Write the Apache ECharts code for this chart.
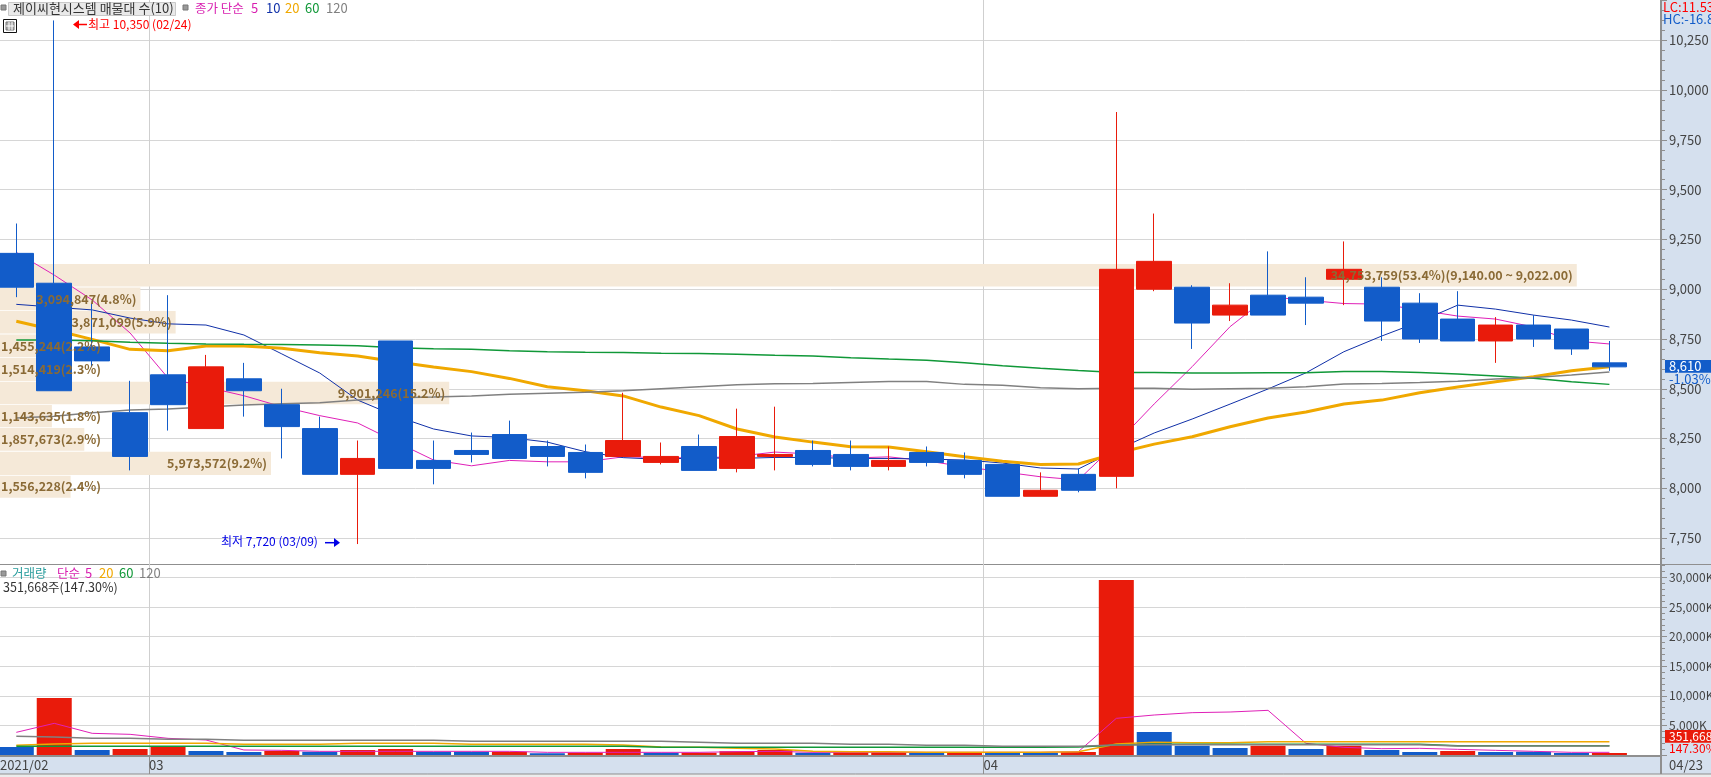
<!DOCTYPE html>
<html><head><meta charset="utf-8">
<style>html,body{margin:0;padding:0;background:#fff;overflow:hidden}#c{width:1711px;height:777px}</style>
<script src="https://cdn.jsdelivr.net/npm/echarts@6/dist/echarts.min.js"></script>
</head><body><div id="c"></div>
<script>
const dates=['02/23','02/24','02/25','02/26','03/02','03/03','03/04','03/05','03/08','03/09','03/10','03/11','03/12','03/15','03/16','03/17','03/18','03/19','03/22','03/23','03/24','03/25','03/26','03/29','03/30','03/31','04/01','04/02','04/05','04/06','04/07','04/08','04/09','04/12','04/13','04/14','04/15','04/16','04/19','04/20','04/21','04/22','04/23'];
const openP =[9180,9030,8710,8380,8570,8300,8550,8420,8300,8070,8740,8140,8190,8270,8210,8180,8160,8130,8210,8100,8160,8190,8170,8110,8180,8140,8120,7960,8070,8060,9000,9010,8870,8970,8960,9050,9010,8930,8850,8740,8820,8800,8630];
const closeP=[9010,8490,8640,8160,8420,8610,8490,8310,8070,8150,8100,8100,8170,8150,8160,8080,8240,8160,8090,8260,8170,8120,8110,8140,8130,8070,7960,7990,7990,9100,9140,8830,8920,8870,8930,9100,8840,8750,8740,8820,8750,8700,8610];
const lowP  =[8960,8490,8610,8090,8290,8300,8360,8150,8070,7720,8100,8020,8130,8150,8110,8050,8160,8120,8090,8080,8090,8110,8090,8090,8110,8050,7960,7960,7980,8000,8990,8700,8840,8870,8820,8920,8740,8730,8740,8630,8710,8670,8590];
const highP =[9330,10350,8930,8540,8970,8670,8630,8500,8360,8240,8740,8240,8280,8340,8240,8220,8480,8230,8270,8400,8410,8240,8240,8210,8210,8180,8120,8080,8100,9890,9380,9020,9030,9190,9060,9240,9060,8980,8990,8860,8870,8800,8740];
const ma5 =[9185,9071,8946,8780,8554,8509,8465,8410,8365,8328,8234,8142,8113,8140,8133,8133,8158,8155,8152,8160,8182,8172,8152,8158,8138,8108,8083,8058,8042,8225,8424,8611,8812,8962,8945,8928,8925,8895,8865,8850,8810,8741,8725];
const ma10=[8924,8910,8896,8855,8826,8820,8770,8675,8579,8443,8363,8298,8263,8255,8232,8184,8154,8145,8154,8150,8155,8155,8150,8150,8147,8142,8127,8102,8097,8192,8278,8348,8423,8499,8580,8686,8765,8837,8920,8900,8870,8845,8810];
const ma20=[8839,8795,8748,8698,8691,8715,8715,8703,8681,8664,8636,8609,8586,8552,8510,8490,8464,8408,8365,8298,8258,8232,8209,8207,8184,8159,8136,8120,8122,8176,8222,8259,8309,8353,8383,8423,8443,8480,8509,8535,8560,8590,8611];
const ma60=[8745,8745,8741,8733,8728,8725,8723,8722,8720,8716,8706,8701,8698,8691,8686,8683,8682,8678,8677,8673,8668,8664,8656,8649,8643,8631,8616,8603,8592,8582,8582,8579,8579,8580,8580,8587,8587,8582,8574,8564,8553,8535,8522];
const ma120=[8353,8362,8380,8393,8398,8408,8418,8425,8430,8443,8455,8458,8464,8472,8477,8482,8490,8500,8510,8520,8525,8527,8532,8537,8537,8522,8517,8505,8500,8502,8502,8497,8500,8502,8510,8524,8527,8532,8538,8549,8557,8569,8584];
const volume=[1351,9630,845,1013,1408,676,507,676,563,845,1013,563,563,563,280,394,1013,394,394,620,845,394,450,450,394,394,394,394,507,29560,3885,1576,1182,1576,1013,1576,845,507,676,507,563,338,352];
const volUp =[0,1,0,1,1,0,0,1,0,1,1,0,0,1,0,1,1,0,1,1,1,0,1,1,0,1,0,0,1,1,0,0,0,1,0,1,0,0,1,0,0,0,1];
const vma5 =[3828,5349,3660,3490,2815,2534,845,788,619,619,619,619,619,619,450,450,450,450,450,563,619,450,450,450,450,450,450,450,563,6193,6756,7150,7263,7544,1970,1295,1070,1126,957,788,619,450,450];
const vma20=[1633,1858,1970,1970,1970,1970,1800,1800,1800,1970,1970,1970,1800,1800,1800,1800,1700,1350,1295,1126,1013,619,563,563,450,450,450,450,563,1858,2139,2082,2082,2252,2252,2252,2252,2252,2252,2252,2252,2252,2252];
const vma60=[1464,1464,1464,1464,1464,1464,1464,1464,1464,1464,1464,1464,1464,1464,1464,1464,1464,1295,1295,1295,1295,1295,1295,1295,1295,1295,1295,1295,1350,1689,1800,1800,1800,1800,1800,1800,1800,1800,1576,1576,1576,1576,1576];
const vma120=[3153,3040,2815,2815,2646,2646,2477,2477,2477,2477,2477,2477,2308,2308,2308,2308,2308,2308,2139,1970,1970,1970,1800,1800,1633,1633,1464,1464,1464,1689,1745,1745,1745,1745,1745,1745,1745,1745,1520,1520,1520,1520,1520];
const profileTop=[9127,9008,8890,8773,8654,8535,8418,8303,8184,8063];
const profileBottom=[9013,8894,8777,8658,8539,8422,8307,8188,8067,7953];
const profileVolume=[34753759,3094847,3871099,1455244,1514419,9901246,1143635,1857673,5973572,1556228];
const profileLabel=['34,753,759(53.4%)(9,140.00 ~ 9,022.00)','3,094,847(4.8%)','3,871,099(5.9%)','1,455,244(2.2%)','1,514,419(2.3%)','9,901,246(15.2%)','1,143,635(1.8%)','1,857,673(2.9%)','5,973,572(9.2%)','1,556,228(2.4%)'];
const monthLabels=['2021/02','03','04'];

const FONT='"Liberation Sans Narrow","Noto Sans CJK KR",sans-serif';
const RED='#E91B0B',BLUE='#125CC9',GRID='#d6d6d6',AXIS='#8f8f8f',PANEL='#D5E0EE';
const C={m5:'#E020B8',m10:'#1030A8',m20:'#F0A800',m60:'#109838',m120:'#808080'};
const XMIN=-0.43,XMAX=43.36;
const monthStarts=dates.map((d,i)=>i).filter(i=>i>0&&dates[i].slice(0,2)!==dates[i-1].slice(0,2)).map(i=>i-0.5);
const xTicks=[XMIN,...monthStarts];
const idx=a=>a.map((v,i)=>[i,v]);
const lineS=(name,data,color,w,xi,yi,z)=>({name,type:'line',data:idx(data),xAxisIndex:xi,yAxisIndex:yi,z,symbol:'none',silent:true,lineStyle:{color,width:w},itemStyle:{color}});
const vLines=monthStarts.map(x=>({xAxis:x}));
const T=(x,y,text,fill,size,extra)=>({type:'text',x,y,z:20,silent:true,style:Object.assign({text,fill,font:(size||13)+'px '+FONT,textVerticalAlign:'middle'},extra||{})});
const R=(x,y,w,h,fill,z,stroke)=>({type:'rect',x,y,z:z==null?20:z,silent:true,shape:{x:0,y:0,width:w,height:h},style:{fill,stroke:stroke||null,lineWidth:1}});
const L=(x1,y1,x2,y2,c,w,z)=>({type:'line',z:z==null?20:z,silent:true,shape:{x1,y1,x2,y2},style:{stroke:c,lineWidth:w||1}});
const P=(pts,fill)=>({type:'polygon',z:20,silent:true,shape:{points:pts},style:{fill}});

const option={
 animation:false,backgroundColor:'#fff',
 grid:[{left:0,width:1661,top:0,height:587.85,outerBoundsMode:'none'},{left:0,width:1661,top:564,height:191,outerBoundsMode:'none'}],
 xAxis:[
  {type:'value',gridIndex:0,min:XMIN,max:XMAX,show:false,splitLine:{show:false}},
  {type:'value',gridIndex:0,min:0,max:36610000,show:false,splitLine:{show:false}},
  {type:'value',gridIndex:1,min:XMIN,max:XMAX,z:2,offset:1,splitLine:{show:false},
   axisLine:{show:true,onZero:false,lineStyle:{color:AXIS,width:2}},
   axisTick:{show:true,length:18,customValues:monthStarts,lineStyle:{color:AXIS,width:1}},
   axisLabel:{customValues:xTicks,margin:3,align:'left',color:'#444',fontSize:13,fontFamily:FONT,
    formatter:v=>monthLabels[xTicks.indexOf(v)]||''}}
 ],
 yAxis:[
  {type:'value',gridIndex:0,position:'right',min:7500,max:10452.6,interval:250,z:0,
   axisLine:{show:true,onZero:false,lineStyle:{color:AXIS,width:2}},
   axisTick:{show:true,length:6,lineStyle:{color:AXIS}},
   minorTick:{show:true,splitNumber:5,length:4,lineStyle:{color:AXIS}},
   splitLine:{show:true,showMinLine:false,showMaxLine:false,lineStyle:{color:GRID,width:1}},
   axisLabel:{margin:8,color:'#444',fontSize:13,fontFamily:FONT,showMinLabel:false,showMaxLabel:false,formatter:v=>v.toLocaleString('en-US')}},
  {type:'value',gridIndex:1,position:'right',min:0,max:32264,interval:5000,z:2,
   axisLine:{show:true,onZero:false,lineStyle:{color:AXIS,width:2}},
   axisTick:{show:true,length:6,lineStyle:{color:AXIS}},
   minorTick:{show:true,splitNumber:5,length:4,lineStyle:{color:AXIS}},
   splitLine:{show:true,showMinLine:false,showMaxLine:false,lineStyle:{color:GRID,width:1}},
   axisLabel:{margin:8,color:'#444',fontSize:12,fontFamily:FONT,showMaxLabel:false,formatter:v=>v?v.toLocaleString('en-US')+'K':''}}
 ],
 graphic:{elements:[
  R(1661,0,50,756,PANEL,-1),
  R(0,756,1711,18,PANEL,-1),
  R(0,774,1711,3,'#ececec',-1),
  R(0,564.5,1661,191,'#fff',1.5),
  R(1662,564.5,49,191.5,PANEL,1.5),
  L(0,564.5,1711,564.5,AXIS,1,1.6),
  L(0,774,1711,774,AXIS,1,20),
  L(1661,756,1661,774,AXIS,2,20),
  // header
  R(1,5,5,5,'#999',20,'#777'),
  R(8.5,2.5,167,13,'#e9e9e9',20,'#c9c9c9'),
  T(13,8.5,'제이씨현시스템 매물대 수(10)','#333',13),
  R(183,5,5,5,'#999',20,'#777'),
  T(195,8.5,'종가 단순','#D81FB0',12.5),T(251,8.5,'5','#D81FB0',13),T(266,8.5,'10',C.m10,13),T(285,8.5,'20',C.m20,13),T(305,8.5,'60',C.m60,13),T(326,8.5,'120',C.m120,13),
  R(3.5,19.5,13,13,'#fff',20,'#111'),R(6,22,8,8,'#aaa',20,'#777'),
  L(9,22,9,30,'#fff',1),L(12,22,12,30,'#fff',1),L(6,26,14,26,'#fff',1),
  // high / low notes
  L(78,24.5,87,24.5,'#f00',1.5),P([[73,24.5],[79,20],[79,29]],'#f00'),
  T(88,24.5,'최고 10,350 (02/24)','#f00',12),
  T(221,541,'최저 7,720 (03/09)','#0000e6',12),
  L(325,542.7,335,542.7,'#0000e6',1.5),P([[340,542.7],[334,538],[334,547]],'#0000e6'),
  // right side
  T(1663,7,'LC:11.53','#f00',13),T(1663,19,'HC:-16.8',BLUE,13),
  R(1665,360,46,12.7,BLUE,20),T(1669,366.5,'8,610','#fff',13),T(1669,379,'-1.03%',BLUE,13),
  R(1665,730,46,12.7,RED,20),T(1669,736.5,'351,668','#fff',12),T(1669,748,'147.30%','#f00',12),
  T(1669,765,'04/23','#444',13),
  // volume legend
  R(1,571,5,5,'#999',20,'#777'),
  T(12,573,'거래량','#2A9D9D',12.5),T(57,573,'단순','#D81FB0',12.5),T(85,573,'5','#D81FB0',13),T(99,573,'20',C.m20,13),T(119,573,'60',C.m60,13),T(139,573,'120',C.m120,13),
  T(3,587,'351,668주(147.30%)','#333',12.5)
 ]},
 series:[
  {type:'line',name:'grid-months',data:[],xAxisIndex:0,yAxisIndex:0,z:0,silent:true,
   markLine:{z:0,silent:true,symbol:'none',label:{show:false},lineStyle:{color:'#cfcfcf',width:1,type:'solid'},
    data:[...vLines,[{coord:[XMIN,8653],lineStyle:{color:'#888'}},{coord:[0.53,8653]}],[{coord:[XMIN,8544],lineStyle:{color:'#888'}},{coord:[0.53,8544]}]]}},
  {type:'custom',name:'매물대',xAxisIndex:1,yAxisIndex:0,z:1,silent:true,clip:false,
   data:profileVolume.map((v,i)=>[v,profileTop[i],profileBottom[i]]),
   renderItem:(p,api)=>{const a=api.coord([0,api.value(1)]),b=api.coord([api.value(0),api.value(2)]);
    return {type:'rect',shape:{x:a[0],y:a[1],width:b[0]-a[0],height:b[1]-a[1]},style:{fill:'#F5E9D8'}};}},
  lineS('MA5',ma5,C.m5,1,0,0,3),lineS('MA10',ma10,C.m10,1,0,0,3),lineS('MA20',ma20,C.m20,3,0,0,3),lineS('MA60',ma60,C.m60,1.5,0,0,3),lineS('MA120',ma120,C.m120,1.5,0,0,3),
  {type:'candlestick',name:'가격',xAxisIndex:0,yAxisIndex:0,z:5,silent:true,barWidth:35,
   data:dates.map((d,i)=>[i,openP[i],closeP[i],lowP[i],highP[i]]),
   encode:{x:0,y:[1,2,3,4]},
   itemStyle:{color:RED,color0:BLUE,borderColor:RED,borderColor0:BLUE,borderWidth:1}},
  {type:'custom',name:'매물대 라벨',xAxisIndex:1,yAxisIndex:0,z:10,silent:true,clip:false,
   data:profileVolume.map((v,i)=>[v,profileTop[i],profileBottom[i]]),
   renderItem:(p,api)=>{const b=api.coord([api.value(0),(api.value(1)+api.value(2))/2]);
    const short=b[0]<105;
    return {type:'text',x:short?1:b[0]-4,y:b[1],style:{text:profileLabel[p.dataIndex],fill:'#8A6A35',font:'bold 12.5px '+FONT,textAlign:short?'left':'right',textVerticalAlign:'middle'}};}},
  {type:'line',name:'vgrid-months',data:[],xAxisIndex:2,yAxisIndex:1,z:2,silent:true,
   markLine:{z:2,silent:true,symbol:'none',label:{show:false},lineStyle:{color:'#cfcfcf',width:1,type:'solid'},data:vLines}},
  {type:'custom',name:'거래량',xAxisIndex:2,yAxisIndex:1,z:3,silent:true,clip:false,
   data:volume.map((v,i)=>[i,v]),encode:{x:0,y:1},
   renderItem:(p,api)=>{const a=api.coord([api.value(0),api.value(1)]),b=api.coord([api.value(0),0]);
    return {type:'rect',shape:{x:a[0]-17.5,y:a[1],width:35,height:b[1]-a[1]},style:{fill:volUp[p.dataIndex]?RED:BLUE}};}},
  lineS('V5',vma5,C.m5,1,2,1,4),lineS('V20',vma20,C.m20,1.5,2,1,4),lineS('V60',vma60,C.m60,1.5,2,1,4),lineS('V120',vma120,C.m120,1.5,2,1,4)
 ]
};
const chart=echarts.init(document.getElementById('c'),null,{renderer:'canvas',width:1711,height:777});
chart.setOption(option);
</script></body></html>
